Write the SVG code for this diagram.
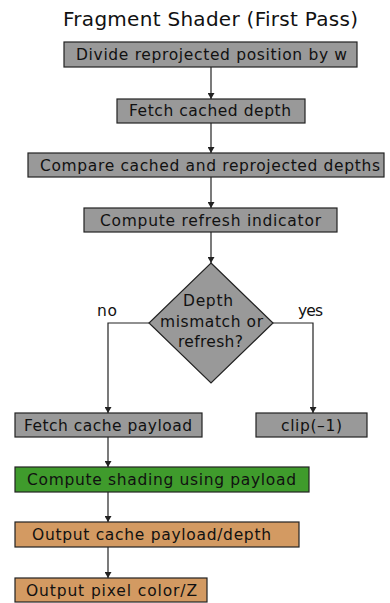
<svg xmlns="http://www.w3.org/2000/svg" width="390" height="603" viewBox="0 0 390 603">
  <style>
    .box { stroke: #222; stroke-width: 1.2; }
    .gray { fill: #999999; }
    .green { fill: #3f9b2c; }
    .orange { fill: #d39a62; }
    text { font-family: "DejaVu Sans", "Liberation Sans", sans-serif; fill: #111; }
    .lbl { font-size: 15.5px; text-anchor: middle; }
    .title { font-size: 20px; text-anchor: middle; }
    .edge { fill: none; stroke: #222; stroke-width: 1.2; }
  </style>
  <defs>
    <marker id="arrow" viewBox="0 0 6 7" refX="6" refY="3.5" markerWidth="6" markerHeight="7" markerUnits="userSpaceOnUse" orient="auto">
      <path d="M0,0 L6,3.5 L0,7 Z" fill="#222"/>
    </marker>
  </defs>

  <text class="title" x="210.5" y="26" textLength="295">Fragment Shader (First Pass)</text>

  <g id="connectors">
    <path class="edge" d="M211,67 V99" marker-end="url(#arrow)"/>
    <path class="edge" d="M211,123 V153" marker-end="url(#arrow)"/>
    <path class="edge" d="M211,177 V208" marker-end="url(#arrow)"/>
    <path class="edge" d="M211,232 V263" marker-end="url(#arrow)"/>
    <path class="edge" d="M149,323 H108 V413" marker-end="url(#arrow)"/>
    <path class="edge" d="M273,323 H313 V413" marker-end="url(#arrow)"/>
    <path class="edge" d="M108,437 V467" marker-end="url(#arrow)"/>
    <path class="edge" d="M108,492 V522" marker-end="url(#arrow)"/>
    <path class="edge" d="M108,547 V578" marker-end="url(#arrow)"/>
    <text class="lbl" x="107" y="316" textLength="20">no</text>
    <text class="lbl" x="310.5" y="316" textLength="25">yes</text>
  </g>

  <g id="divide">
    <rect class="box gray" x="64" y="42" width="293" height="25"/>
    <text class="lbl" x="211.5" y="60" textLength="271">Divide reprojected position by w</text>
  </g>
  <g id="fetch-depth">
    <rect class="box gray" x="117" y="99" width="188" height="24"/>
    <text class="lbl" x="210" y="116" textLength="162">Fetch cached depth</text>
  </g>
  <g id="compare">
    <rect class="box gray" x="28" y="153" width="356" height="24"/>
    <text class="lbl" x="210" y="170.5" textLength="340">Compare cached and reprojected depths</text>
  </g>
  <g id="refresh">
    <rect class="box gray" x="84" y="208" width="253" height="24"/>
    <text class="lbl" x="210.5" y="225.5" textLength="221">Compute refresh indicator</text>
  </g>
  <g id="decision">
    <polygon class="box gray" points="211,263 273,323 211,383 149,323"/>
    <text class="lbl" x="208" y="306" textLength="50">Depth</text>
    <text class="lbl" x="211.5" y="327" textLength="103">mismatch or</text>
    <text class="lbl" x="210.5" y="347" textLength="65">refresh?</text>
  </g>
  <g id="fetch-payload">
    <rect class="box gray" x="15" y="413" width="187" height="24"/>
    <text class="lbl" x="108" y="430.5" textLength="168">Fetch cache payload</text>
  </g>
  <g id="clip">
    <rect class="box gray" x="256" y="413" width="111" height="24"/>
    <text class="lbl" x="311.5" y="430.5" textLength="61">clip(–1)</text>
  </g>
  <g id="shading">
    <rect class="box green" x="15" y="467" width="294" height="25"/>
    <text class="lbl" x="161.5" y="484.5" textLength="269">Compute shading using payload</text>
  </g>
  <g id="output-cache">
    <rect class="box orange" x="15" y="522" width="284" height="25"/>
    <text class="lbl" x="151.5" y="539.5" textLength="239">Output cache payload/depth</text>
  </g>
  <g id="output-pixel">
    <rect class="box orange" x="15" y="578" width="192" height="24"/>
    <text class="lbl" x="111.5" y="595.5" textLength="171">Output pixel color/Z</text>
  </g>
</svg>
